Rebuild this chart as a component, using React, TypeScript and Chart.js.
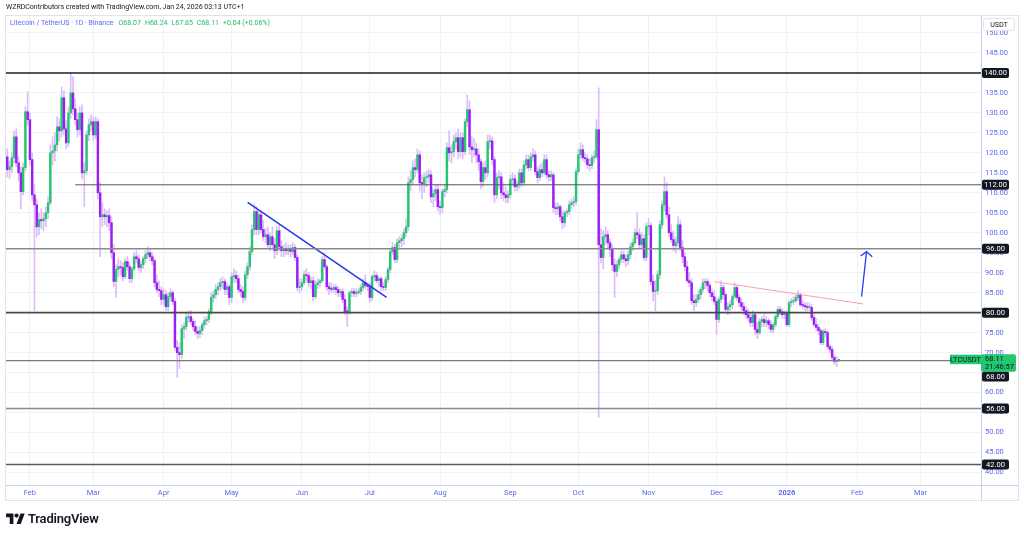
import React, { useEffect, useRef } from "react";
import { Chart, registerables } from "chart.js";
Chart.register(...registerables);

// Day index counted from 2025-01-01 (= 0)
const monthTickDays = [31, 59, 90, 120, 151, 181, 212, 243, 273, 304, 334, 365, 396, 424];
const monthTickLabels = ["Feb", "Mar", "Apr", "May", "Jun", "Jul", "Aug", "Sep", "Oct", "Nov", "Dec", "2026", "Feb", "Mar"];
const priceTicks = [40, 45, 50, 55, 60, 65, 70, 75, 80, 85, 90, 95, 100, 105, 110, 115, 120, 125, 130, 135, 140, 145, 150];

// Daily candles [open, high, low, close]
const jan25 = [
  [119, 121, 114, 115.8], [115.8, 118, 113.5, 116.5], [116.5, 120, 115, 118.8], [118.8, 125.5, 117.5, 124],
  [124, 126, 116.5, 117.5], [117.5, 119, 113, 115], [115, 116.5, 106, 110.3], [110.3, 117.5, 109.5, 116.3],
  [116.3, 131.5, 115.5, 130.3], [130.3, 135.3, 127, 128.3],
];
const feb25 = [
  [128.3, 130, 117, 118.3], [118.3, 120, 108, 109.5], [109.5, 112, 80.5, 107], [107, 108.5, 99, 101.5],
  [101.5, 105, 99.5, 103.3], [103.3, 106, 101, 103], [103, 105, 100.5, 103.5], [103.5, 106.5, 101.5, 105],
  [105, 109, 103.5, 107.5], [107.5, 122, 107, 120], [120, 124, 117, 120.5], [120.5, 125, 118, 122],
  [122, 129, 120.5, 126.5], [126.5, 128.5, 123, 125.5], [125.5, 136.5, 124, 133.8], [133.8, 135.5, 124.5, 126],
  [126, 128, 121, 122.5], [122.5, 131.5, 121.5, 130], [130, 140, 128.5, 135], [135, 139, 129.5, 131],
  [131, 133.5, 127, 128.3], [128.3, 130, 124, 125.8], [125.8, 131.5, 124.5, 130], [130, 132, 113.5, 115],
  [115, 117.5, 106.5, 115.5], [115.5, 125.5, 114.5, 124.5], [124.5, 128.5, 123, 127], [127, 129.5, 125.5, 127.8],
];
const mar25 = [
  [127.8, 129, 123, 124.5], [124.5, 129, 123.5, 127.8], [127.8, 128.5, 108.5, 110], [110, 112.5, 94, 104],
  [104, 107.5, 101.5, 104.5], [104.5, 106, 102, 104], [104, 105.5, 101.5, 104.3], [104.3, 106, 100.5, 102.5],
  [102.5, 104, 93.5, 95], [95, 97, 86.5, 87.8], [87.8, 92, 83.8, 90.8], [90.8, 93.5, 89, 91.5],
  [91.5, 93, 89.5, 91.3], [91.3, 92.5, 88, 89], [89, 93.5, 88.5, 92.8], [92.8, 94, 90.5, 91.5],
  [91.5, 92.5, 87.5, 88.5], [88.5, 91.5, 87.5, 91], [91, 95, 90.5, 94], [94, 95.5, 92.5, 93.5],
  [93.5, 94.5, 90.5, 91.3], [91.3, 93, 90, 92], [92, 94, 91, 93.5], [93.5, 95.5, 92.5, 94.5],
  [94.5, 96.5, 93.5, 95], [95, 96, 93, 94], [94, 95, 92, 93], [93, 93.5, 86.5, 87.5],
  [87.5, 89.5, 85, 85.8], [85.8, 88, 84, 85.5], [85.5, 86.5, 82, 83.3],
];
const apr25 = [
  [83.3, 86, 82, 84.5], [84.5, 85.5, 80.5, 81.5], [81.5, 85, 80.5, 84], [84, 86, 83, 85],
  [85, 85.5, 82, 82.8], [82.8, 83.5, 70.5, 71.3], [71.3, 73, 63.8, 70], [70, 72.5, 66, 69.5],
  [69.5, 77, 68.5, 76], [76, 77.5, 73.5, 76.5], [76.5, 80, 75.5, 78.8], [78.8, 80.5, 77.5, 79],
  [79, 80.5, 77, 77.8], [77.8, 78.5, 75.5, 76.5], [76.5, 78, 74.5, 75.3], [75.3, 76.5, 73.5, 74.8],
  [74.8, 76.5, 73.8, 75.5], [75.5, 77.5, 74.5, 77], [77, 79, 76, 78], [78, 79, 77, 78.3],
  [78.3, 81, 77.5, 80.3], [80.3, 85, 79.5, 83.8], [83.8, 85.5, 82.5, 84.5], [84.5, 87, 83.5, 85.8],
  [85.8, 87.5, 84.5, 86.5], [86.5, 88.5, 85.5, 87.5], [87.5, 89, 86, 87.8], [87.8, 88.5, 84.5, 85.8],
  [85.8, 87.5, 84.5, 86.5], [86.5, 87, 82, 83.8],
];
const may25 = [
  [83.8, 90, 82.5, 89], [89, 91, 87.5, 89.3], [89.3, 90.5, 87.5, 88.5], [88.5, 89.5, 85, 85.8],
  [85.8, 87, 84, 85.3], [85.3, 86.5, 82.5, 83.8], [83.8, 90.5, 83, 89.5], [89.5, 92.5, 88.5, 91.5],
  [91.5, 96.5, 90.5, 95.3], [95.3, 102, 94.5, 100.8], [100.8, 107, 99.5, 105.3], [105.3, 106.5, 99.5, 100.8],
  [100.8, 105.5, 99.5, 104.5], [104.5, 105.5, 100, 100.8], [100.8, 103, 98, 99], [99, 101, 97.5, 99.5],
  [99.5, 101.5, 96, 97], [97, 100, 95.5, 99], [99, 101.5, 96, 97], [97, 98.5, 93.5, 95.5],
  [95.5, 101.5, 94.5, 100.5], [100.5, 102, 95.5, 96.5], [96.5, 98, 94, 95.5], [95.5, 97, 94, 96],
  [96, 97.5, 94.5, 95.5], [95.5, 97, 94.5, 96], [96, 97, 94, 95.3], [95.3, 97.5, 94.5, 96.3],
  [96.3, 97, 93, 93.8], [93.8, 94.5, 85.5, 86.3], [86.3, 88.5, 85, 86.5],
];
const jun25 = [
  [86.5, 88.5, 85.5, 87.5], [87.5, 90.5, 87, 89.5], [89.5, 91, 88, 89.3], [89.3, 90, 86.5, 87.5],
  [87.5, 89, 86, 88], [88, 89, 83, 84], [84, 88, 83.5, 87], [87, 88.5, 86, 87.5],
  [87.5, 88.5, 86.5, 88], [88, 94, 87.5, 93.3], [93.3, 95, 91, 91.5], [91.5, 92, 85.5, 86.5],
  [86.5, 87.5, 84.5, 86], [86, 87.5, 85, 85.8], [85.8, 87, 85, 86.3], [86.3, 87, 84.5, 85.8],
  [85.8, 86.5, 84, 85], [85, 86, 84, 85.3], [85.3, 86, 82.5, 83.3], [83.3, 84.5, 79.5, 80.3],
  [80.3, 81.5, 76.5, 80.2], [80.2, 85.5, 79.5, 85], [85, 86, 84, 85.3], [85.3, 86, 84, 84.8],
  [84.8, 86, 84, 85], [85, 86, 84.5, 85.3], [85.3, 87, 84.5, 86.3], [86.3, 88.5, 85.5, 87.5],
  [87.5, 89.5, 86, 86.8], [86.8, 87.5, 85.5, 86.5],
];
const jul25 = [
  [86.5, 87.5, 82.5, 83.8], [83.8, 89.5, 83, 89], [89, 90.5, 88, 89.3], [89.3, 90, 87.5, 88],
  [88, 89, 86.5, 88.5], [88.5, 89, 85.5, 86.5], [86.5, 87.5, 85.5, 86.3], [86.3, 89, 85.5, 88.3],
  [88.3, 91.5, 87.5, 90.8], [90.8, 96, 90, 95.3], [95.3, 97.5, 94.5, 96.3], [96.3, 97, 92.5, 93.3],
  [93.3, 98.5, 92.5, 97.5], [97.5, 99, 96, 98], [98, 99.5, 96.5, 98.5], [98.5, 101, 97, 100],
  [100, 103.5, 99, 101.5], [101.5, 114, 100.5, 112.5], [112.5, 115.5, 110.5, 113.3], [113.3, 118, 112, 116.3],
  [116.3, 118.5, 114, 115.8], [115.8, 121, 115, 119.5], [119.5, 120.5, 110.5, 112.5], [112.5, 114.5, 108.5, 112.3],
  [112.3, 115, 110, 113.8], [113.8, 115.5, 111.5, 114], [114, 116, 112.5, 114.5], [114.5, 115.5, 107.5, 109],
  [109, 111, 106.5, 109.8], [109.8, 112, 108, 110.8], [110.8, 112, 105.5, 106.5],
];
const aug25 = [
  [106.5, 108, 104.5, 106.3], [106.3, 111, 105, 110.3], [110.3, 112, 109, 110.8], [110.8, 122.5, 110, 121.3],
  [121.3, 125.5, 118, 120], [120, 122, 117.5, 120.3], [120.3, 124.5, 119, 122.8], [122.8, 125, 121, 123.8],
  [123.8, 126, 118.5, 120.3], [120.3, 125, 119, 123.8], [123.8, 125, 118.5, 120.3], [120.3, 128.5, 119.5, 127.8],
  [127.8, 134.5, 126.5, 130.8], [130.8, 133, 119.5, 121.5], [121.5, 124, 117.5, 120.8], [120.8, 123.5, 119, 121],
  [121, 122.5, 117.5, 119.5], [119.5, 121, 115.5, 117.8], [117.8, 118.5, 111, 112.8], [112.8, 117.5, 111.5, 116.3],
  [116.3, 118, 113.5, 115], [115, 124.5, 114, 122.8], [122.8, 124.5, 121, 123], [123, 124, 117, 118.3],
  [118.3, 119, 107.5, 109.5], [109.5, 115, 108.5, 113.8], [113.8, 115.5, 111, 114], [114, 115, 108.5, 110],
  [110, 112.5, 108, 109.5], [109.5, 111.5, 107.5, 108.8], [108.8, 110.5, 107.5, 109.5],
];
const sep25 = [
  [109.5, 114.5, 108.5, 113.3], [113.3, 115, 112, 113.5], [113.5, 114.5, 110.5, 111.5], [111.5, 113, 110.5, 112],
  [112, 116, 111, 115], [115, 116, 111.5, 112.5], [112.5, 118, 112, 117], [117, 119.5, 116, 118.3],
  [118.3, 119.5, 115.5, 116.3], [116.3, 120, 115.5, 119], [119, 121, 118, 119.5], [119.5, 120.5, 114.5, 115.3],
  [115.3, 116.5, 112.5, 113.8], [113.8, 117, 113, 115.8], [115.8, 117.5, 114, 115], [115, 119.5, 114.5, 118.3],
  [118.3, 119.5, 113.5, 114.5], [114.5, 115.5, 113, 114], [114, 115.5, 113, 114.5], [114.5, 115, 105, 106.3],
  [106.3, 107.5, 104.5, 106], [106, 107.5, 104.5, 106.5], [106.5, 107, 103, 104], [104, 105.5, 101, 102.5],
  [102.5, 105.5, 101.5, 105], [105, 106, 104, 105.3], [105.3, 108, 104.5, 107], [107, 108.5, 106, 107.5],
  [107.5, 109, 106.5, 107.8], [107.8, 116, 107, 115.3],
];
const oct25 = [
  [115.3, 121, 114.5, 119.5], [119.5, 122.5, 118.5, 120.8], [120.8, 122, 118, 118.8], [118.8, 120, 117.5, 118.5],
  [118.5, 119.5, 116, 117], [117, 118.5, 115.5, 116.8], [116.8, 119.5, 116, 118.8], [118.8, 120.5, 117.5, 119],
  [119, 128.3, 118.5, 125.8], [125.8, 136.3, 53.8, 97], [97, 101, 92.5, 93.8], [93.8, 100.5, 91, 99],
  [99, 101.5, 97, 99.5], [99.5, 100.5, 96, 97.5], [97.5, 98.5, 94, 95.8], [95.8, 97, 90.5, 92],
  [92, 93.5, 83.8, 90.3], [90.3, 93, 89, 92], [92, 94, 91, 93.3], [93.3, 95.5, 92.5, 94.5],
  [94.5, 95.5, 92.5, 93.5], [93.5, 94.5, 91.5, 93], [93, 95.5, 92, 94.5], [94.5, 97.5, 93.5, 96.5],
  [96.5, 98.5, 95.5, 97.5], [97.5, 101, 97, 100], [100, 105, 98.5, 99.5], [99.5, 101, 96, 97],
  [97, 100, 96, 98.5], [98.5, 99.5, 93, 93.8], [93.8, 102.5, 93, 101.5],
];
const nov25 = [
  [101.5, 103.5, 99.5, 101.8], [101.8, 102.5, 87, 87.8], [87.8, 89.5, 83, 85.3], [85.3, 88, 80.5, 85.5],
  [85.5, 90.5, 84.5, 89.5], [89.5, 103, 88.5, 102], [102, 108, 101, 107], [107, 114, 105.5, 110.3],
  [110.3, 112.5, 103.5, 104.5], [104.5, 106.5, 99, 100], [100, 102, 97.5, 98.3], [98.3, 100.5, 95.5, 96.8],
  [96.8, 99, 95, 97.5], [97.5, 104, 96.5, 102], [102, 103, 95.5, 96.3], [96.3, 98, 92.5, 94],
  [94, 95, 90.5, 91.5], [91.5, 93, 87.5, 88], [88, 90, 86.5, 87.5], [87.5, 88.5, 82, 83],
  [83, 84.5, 80.5, 82.5], [82.5, 84.5, 81.5, 83.3], [83.3, 85.5, 82.5, 84.5], [84.5, 86.5, 83.5, 85.8],
  [85.8, 88.5, 85, 87.5], [87.5, 88.5, 86, 87.8], [87.8, 88.5, 85.5, 86.8], [86.8, 87.5, 84, 85],
  [85, 86, 83, 84], [84, 85.5, 82, 82.8],
];
const dec25 = [
  [82.8, 83.5, 74.5, 78.3], [78.3, 84, 77.5, 83.3], [83.3, 88, 82.5, 86.3], [86.3, 87, 83.5, 84.5],
  [84.5, 85, 80, 80.8], [80.8, 82.5, 79.5, 81.5], [81.5, 83, 80.5, 82], [82, 84.5, 81, 84],
  [84, 87.5, 83.5, 86.3], [86.3, 86.8, 83, 83.8], [83.8, 84.5, 81.5, 82.5], [82.5, 83.5, 80.5, 81.5],
  [81.5, 82.5, 79.5, 80.5], [80.5, 81.5, 78.5, 79.5], [79.5, 81, 78, 78.8], [78.8, 80, 76.5, 77.5],
  [77.5, 80.5, 76.5, 79.5], [79.5, 80, 74.5, 75.8], [75.8, 77.5, 73.5, 75], [75, 78.5, 74.5, 77.8],
  [77.8, 79, 76.5, 78.3], [78.3, 79.5, 76.5, 77.5], [77.5, 79, 76.5, 78], [78, 78.5, 76, 77],
  [77, 78, 75, 75.8], [75.8, 77.5, 75, 77], [77, 79.5, 76.5, 79], [79, 81.5, 78.5, 80.8],
  [80.8, 81.5, 79.5, 80.2], [80.2, 81, 78.5, 79.5], [79.5, 80.5, 78.5, 79.8],
];
const jan26 = [
  [79.8, 80.5, 76.5, 77], [77, 83, 76.5, 82.5], [82.5, 83.5, 81.5, 82.8], [82.8, 84, 82, 83],
  [83, 84.5, 82.5, 83.8], [83.8, 85.5, 83, 84.5], [84.5, 85, 81.5, 82], [82, 83, 81, 81.8],
  [81.8, 82.5, 80.5, 81.5], [81.5, 82.5, 80.5, 81.3], [81.3, 82.5, 80.5, 81.3], [81.3, 82, 78, 78.8],
  [78.8, 79.5, 76.5, 77], [77, 78.5, 75.5, 76.3], [76.3, 77, 74.5, 75.5], [75.5, 76, 72, 72.5],
  [72.5, 75.8, 72, 75.3], [75.3, 76, 74, 75], [75, 75.5, 71, 71.5], [71.5, 72, 70, 70.8],
  [70.8, 71.5, 68, 68.8], [68.8, 69.5, 67, 67.8], [67.8, 69, 66.5, 68.07], [68.07, 68.24, 67.85, 68.11],
];
const monthFirstDays = [21, 31, 59, 90, 120, 151, 181, 212, 243, 273, 304, 334, 365];
const monthCandles = [jan25, feb25, mar25, apr25, may25, jun25, jul25, aug25, sep25, oct25, nov25, dec25, jan26];

// Horizontal levels drawn on the chart
const levelPrices = [140, 112, 96, 80, 68, 56, 42];
const levelStartDays = [20, 51, 20, 20, 20, 20, 20];
// Trend lines [day, price]
const blueTrend = [[127.1, 107.6], [188.4, 83.85]];
const redTrend = [[333.0, 87.76], [398.7, 82.18]];
const arrowShaft = [[398.0, 84.0], [400.2, 95.27]];
const arrowHead = [[397.6, 94.2], [400.2, 95.27], [402.7, 94.0]];

const symbolName = "LTCUSDT";
const lastTime = "21:46:57";

const GREEN = "#23c770";
const PURPLE = "#9b1ef5";
const WICK = "#dcbdf8";
const AXIS_TEXT = "#5d68ee";
const FONT = "Roboto, 'Noto Sans', sans-serif";

const levelStyle: Record<number, { color: string; width: number; shift: number }> = {
  140: { color: "#222222", width: 1.6, shift: 0 },
  112: { color: "#555555", width: 1, shift: 0 },
  96: { color: "#8a8a8a", width: 1.5, shift: 0 },
  80: { color: "#4a4a4a", width: 1.6, shift: 0 },
  68: { color: "#7a7a7a", width: 1.4, shift: 16 },
  56: { color: "#8a8a8a", width: 1.4, shift: 0 },
  42: { color: "#5a5a5a", width: 1.4, shift: 0 },
};

function roundRect(ctx: CanvasRenderingContext2D, x: number, y: number, w: number, h: number, r: number) {
  ctx.beginPath();
  ctx.moveTo(x + r, y);
  ctx.lineTo(x + w - r, y);
  ctx.quadraticCurveTo(x + w, y, x + w, y + r);
  ctx.lineTo(x + w, y + h - r);
  ctx.quadraticCurveTo(x + w, y + h, x + w - r, y + h);
  ctx.lineTo(x + r, y + h);
  ctx.quadraticCurveTo(x, y + h, x, y + h - r);
  ctx.lineTo(x, y + r);
  ctx.quadraticCurveTo(x, y, x + r, y);
  ctx.closePath();
}

const overlayPlugin = {
  id: "tvOverlay",
  afterDraw(chart: any) {
    const { ctx, chartArea, scales } = chart;
    const y = scales.y;
    ctx.save();
    // level labels
    ctx.font = `7.5px ${FONT}`;
    ctx.textAlign = "center";
    ctx.textBaseline = "middle";
    levelPrices.forEach((p) => {
      const st = levelStyle[p];
      const py = y.getPixelForValue(p) + st.shift;
      ctx.fillStyle = "#131722";
      roundRect(ctx, chartArea.right + 1, py - 5, 27, 10, 2);
      ctx.fill();
      ctx.fillStyle = "#ffffff";
      ctx.fillText(p.toFixed(2), chartArea.right + 14.5, py + 0.5);
    });
    // current price
    const last = jan26[jan26.length - 1];
    const lp = y.getPixelForValue(last[3]);
    ctx.fillStyle = GREEN;
    roundRect(ctx, chartArea.right, lp - 6, 35, 17.5, 2);
    ctx.fill();
    ctx.fillRect(chartArea.right - 31, lp - 5.5, 31, 9.5);
    ctx.fillStyle = "#0c1a12";
    ctx.textAlign = "left";
    ctx.fillText(last[3].toFixed(2), chartArea.right + 4, lp - 1);
    ctx.fillText(lastTime, chartArea.right + 4, lp + 7);
    ctx.textAlign = "center";
    ctx.fillText(symbolName, chartArea.right - 15.5, lp - 0.5);
    // widget frame
    ctx.strokeStyle = "#e0e3eb";
    ctx.lineWidth = 1;
    ctx.strokeRect(5.5, 15.5, 1013, 485);
    ctx.beginPath();
    ctx.moveTo(chartArea.right, chartArea.bottom + 0.5);
    ctx.lineTo(1018, chartArea.bottom + 0.5);
    ctx.strokeStyle = "#c9ccf3";
    ctx.stroke();
    ctx.beginPath();
    ctx.moveTo(chartArea.right + 0.5, chartArea.bottom);
    ctx.lineTo(chartArea.right + 0.5, 500);
    ctx.stroke();
    ctx.restore();
  },
};

export default function App() {
  const ref = useRef<HTMLCanvasElement | null>(null);

  useEffect(() => {
    document.body.style.margin = "0";
    const wickData: any[] = [];
    const bodyData: any[] = [];
    const bodyColors: string[] = [];
    monthCandles.forEach((rows, m) => {
      rows.forEach((r, k) => {
        const day = monthFirstDays[m] + k;
        wickData.push({ x: day, y: [r[2], r[1]] });
        bodyData.push({ x: day, y: [r[0], r[3]] });
        bodyColors.push(r[3] >= r[0] ? GREEN : PURPLE);
      });
    });
    const pts = (arr: number[][]) => arr.map((p) => ({ x: p[0], y: p[1] }));
    const lineDs = (data: any[], color: string, width: number) => ({
      type: "line" as const,
      data,
      borderColor: color,
      borderWidth: width,
      pointRadius: 0,
      fill: false,
      tension: 0,
      order: 0,
    });
    const levelDs = levelPrices.map((p, i) =>
      lineDs([{ x: levelStartDays[i], y: p }, { x: 450.7, y: p }], levelStyle[p].color, levelStyle[p].width)
    );

    Chart.defaults.font.family = FONT;
    const chart = new Chart(ref.current as HTMLCanvasElement, {
      type: "bar",
      data: {
        datasets: [
          {
            type: "bar",
            data: wickData,
            backgroundColor: WICK,
            barThickness: 1,
            grouped: false,
            order: 3,
          } as any,
          {
            type: "bar",
            data: bodyData,
            backgroundColor: bodyColors,
            barThickness: 1.8,
            minBarLength: 1,
            grouped: false,
            order: 2,
          } as any,
          ...levelDs,
          lineDs(pts(blueTrend), "#2336f2", 1.5),
          lineDs(pts(redTrend), "#f4a3a3", 1),
          lineDs(pts(arrowShaft), "#2a3ff0", 1.3),
          lineDs(pts(arrowHead), "#2a3ff0", 1.3),
        ],
      },
      options: {
        responsive: false,
        animation: false,
        devicePixelRatio: 1,
        layout: { padding: { left: 5, top: 15, right: 0, bottom: 0 } },
        plugins: { legend: { display: false }, tooltip: { enabled: false } },
        scales: {
          x: {
            type: "linear",
            min: 20,
            max: 450.7,
            offset: false,
            afterFit: (s: any) => {
              s.height = 50;
            },
            afterBuildTicks: (s: any) => {
              s.ticks = monthTickDays.map((v) => ({ value: v }));
            },
            grid: { color: "#f0f2f8", drawTicks: false, offset: false },
            border: { color: "#c9ccf3" },
            ticks: {
              autoSkip: false,
              maxRotation: 0,
              padding: 4,
              color: AXIS_TEXT,
              font: (c: any) => ({ size: 7.5, weight: c.tick && c.tick.value === 365 ? "bold" : "normal" }),
              callback: (v: any) => monthTickLabels[monthTickDays.indexOf(Number(v))] ?? "",
            },
          },
          y: {
            type: "linear",
            position: "right",
            min: 36.87,
            max: 154.5,
            afterFit: (s: any) => {
              s.width = 43;
            },
            afterBuildTicks: (s: any) => {
              s.ticks = priceTicks.map((v) => ({ value: v }));
            },
            grid: { color: "#f0f2f8", drawTicks: false },
            border: { color: "#c9ccf3" },
            ticks: {
              padding: 4,
              color: AXIS_TEXT,
              font: { size: 7.5 },
              callback: (v: any) => Number(v).toFixed(2),
            },
          },
        },
      } as any,
      plugins: [overlayPlugin],
    });
    return () => chart.destroy();
  }, []);

  return (
    <div style={{ position: "relative", width: 1024, height: 535, background: "#fff", fontFamily: FONT, overflow: "hidden" }}>
      <canvas ref={ref} width={1024} height={535} style={{ position: "absolute", left: 0, top: 0 }} />
      <div style={{ position: "absolute", left: 6, top: 3, fontSize: 7, color: "#131722", whiteSpace: "nowrap" }}>
        WZRDContributors created with TradingView.com, Jan 24, 2026 03:13 UTC+1
      </div>
      <div style={{ position: "absolute", left: 10, top: 19, fontSize: 7, whiteSpace: "nowrap" }}>
        <span style={{ color: "#5d68ee" }}>Litecoin / TetherUS · 1D · Binance</span>
        <span style={{ color: "#22b866", marginLeft: 5 }}>O68.07</span>
        <span style={{ color: "#22b866", marginLeft: 4 }}>H68.24</span>
        <span style={{ color: "#22b866", marginLeft: 4 }}>L67.85</span>
        <span style={{ color: "#22b866", marginLeft: 4 }}>C68.11</span>
        <span style={{ color: "#22b866", marginLeft: 4 }}>+0.04 (+0.06%)</span>
      </div>
      <div
        style={{
          position: "absolute", left: 983, top: 18, width: 32, height: 13, border: "1px solid #e0e3eb",
          borderRadius: 3, background: "#fff", fontSize: 7, color: "#131722", display: "flex",
          alignItems: "center", justifyContent: "center", boxSizing: "border-box",
        }}
      >
        USDT
      </div>
      <div style={{ position: "absolute", left: 6, top: 511, display: "flex", alignItems: "center" }}>
        <svg width="19" height="11" viewBox="0 0 36 21">
          <path d="M14 21H7V8H0V1h14v20z" fill="#131722" />
          <circle cx="20" cy="5" r="4" fill="#131722" />
          <path d="M28 21h-8l7.5-20h8L28 21z" fill="#131722" />
        </svg>
        <span style={{ marginLeft: 3, fontSize: 13, fontWeight: 600, color: "#131722", letterSpacing: -0.2 }}>TradingView</span>
      </div>
    </div>
  );
}
